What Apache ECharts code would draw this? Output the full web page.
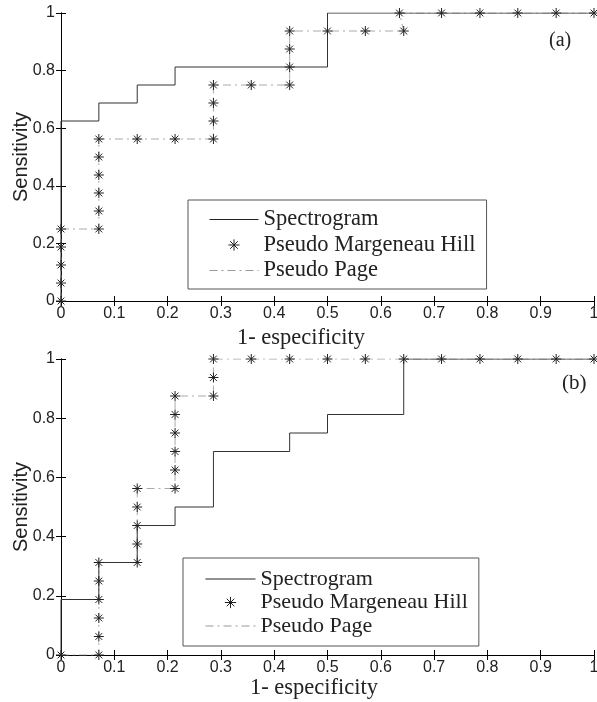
<!DOCTYPE html>
<html>
<head>
<meta charset="utf-8">
<script src="https://cdn.jsdelivr.net/npm/echarts@6/dist/echarts.min.js"></script>
<style>
  html, body { margin: 0; padding: 0; background: #fff; }
  #chart { width: 597px; height: 702px; }
</style>
</head>
<body>
<div id="chart"></div>
<script>
// panel (a)
const specAX = [0, 0, 0.071, 0.071, 0.143, 0.143, 0.214, 0.214, 0.5, 0.5, 1]
const specAY = [0, 0.625, 0.625, 0.6875, 0.6875, 0.75, 0.75, 0.8125, 0.8125, 1, 1]
const pseudoAX = [0, 0, 0, 0, 0, 0.071, 0.071, 0.071, 0.071, 0.071, 0.071, 0.143, 0.214,
  0.286, 0.286, 0.286, 0.286, 0.357, 0.429, 0.429, 0.429, 0.429, 0.5, 0.571, 0.643,
  0.635, 0.714, 0.786, 0.857, 0.929, 1]
const pseudoAY = [0, 0.0625, 0.125, 0.1875, 0.25, 0.25, 0.3125, 0.375, 0.4375, 0.5, 0.5625,
  0.5625, 0.5625, 0.5625, 0.625, 0.6875, 0.75, 0.75, 0.75, 0.8125, 0.875, 0.9375,
  0.9375, 0.9375, 0.9375, 1, 1, 1, 1, 1, 1]

// panel (b)
const specBX = [0, 0, 0.071, 0.071, 0.143, 0.143, 0.214, 0.214, 0.286, 0.286, 0.429, 0.429,
  0.5, 0.5, 0.643, 0.643, 1]
const specBY = [0, 0.1875, 0.1875, 0.3125, 0.3125, 0.4375, 0.4375, 0.5, 0.5, 0.6875, 0.6875,
  0.75, 0.75, 0.8125, 0.8125, 1, 1]
const pseudoBX = [0, 0.071, 0.071, 0.071, 0.071, 0.071, 0.071, 0.143, 0.143, 0.143, 0.143,
  0.143, 0.214, 0.214, 0.214, 0.214, 0.214, 0.214, 0.286, 0.286, 0.286, 0.357, 0.429,
  0.5, 0.571, 0.643, 0.714, 0.786, 0.857, 0.929, 1]
const pseudoBY = [0, 0, 0.0625, 0.125, 0.1875, 0.25, 0.3125, 0.3125, 0.375, 0.4375, 0.5,
  0.5625, 0.5625, 0.625, 0.6875, 0.75, 0.8125, 0.875, 0.875, 0.9375, 1, 1, 1, 1, 1, 1,
  1, 1, 1, 1, 1]

const seriesNames = ['Spectrogram', 'Pseudo Margeneau Hill', 'Pseudo Page']
const panelLabels = ['(a)', '(b)']

const zip = (xs, ys) => xs.map((x, i) => [x, ys[i]])

const ASTERISK = 'path://M0 5L10 5M5 0L5 10M1.6 1.6L8.4 8.4M1.6 8.4L8.4 1.6'
const SANS = 'Liberation Sans'
const SERIF = 'Liberation Serif'

const xAxisFor = (grid, top, nameGap, shift) => ({
  type: 'value',
  gridIndex: grid,
  position: top ? 'top' : 'bottom',
  min: 0,
  max: 1,
  interval: 0.1,
  name: top ? '' : '1- especificity',
  nameLocation: 'middle',
  nameGap: nameGap,
  nameTextStyle: { fontFamily: SERIF, fontSize: 22.5, color: '#222', padding: [0, shift, 0, 0] },
  axisLine: { show: true, lineStyle: { color: '#000', width: 1 } },
  axisTick: { show: true, inside: true, length: 5, lineStyle: { color: '#000' } },
  axisLabel: { show: !top, margin: 5, fontFamily: SANS, fontSize: 16, color: '#222' },
  splitLine: { show: false },
})

const yAxisFor = (grid, right) => ({
  type: 'value',
  gridIndex: grid,
  position: right ? 'right' : 'left',
  min: 0,
  max: 1,
  interval: 0.2,
  name: right ? '' : 'Sensitivity',
  nameLocation: 'middle',
  nameGap: 30,
  nameMoveOverlap: false,
  nameTextStyle: { fontFamily: SANS, fontSize: 20, color: '#222' },
  axisLine: { show: true, lineStyle: { color: '#000', width: 1 } },
  axisTick: { show: true, inside: true, length: 5, lineStyle: { color: '#000' } },
  axisLabel: { show: !right, margin: 6, fontFamily: SANS, fontSize: 16, color: '#222' },
  splitLine: { show: false },
})

const seriesFor = (axis, spec, pseudo) => [
  {
    name: seriesNames[0],
    type: 'line',
    xAxisIndex: axis,
    yAxisIndex: axis,
    symbol: 'none',
    lineStyle: { color: '#333', width: 1 },
    data: spec,
    z: 3,
  },
  {
    name: seriesNames[1],
    type: 'line',
    xAxisIndex: axis,
    yAxisIndex: axis,
    symbol: ASTERISK,
    symbolSize: 10,
    showAllSymbol: true,
    lineStyle: { width: 0, opacity: 0 },
    itemStyle: { color: '#222', borderColor: '#222', borderWidth: 1 },
    data: pseudo,
    z: 4,
  },
  {
    name: seriesNames[2],
    type: 'line',
    xAxisIndex: axis,
    yAxisIndex: axis,
    symbol: 'none',
    lineStyle: { color: '#aaa', width: 1, type: [8, 4, 2, 4] },
    data: pseudo,
    z: 2,
  },
]

const legendData = [
  { name: seriesNames[0], itemStyle: { opacity: 0 }, lineStyle: { color: '#222', width: 1 } },
  {
    name: seriesNames[1],
    lineStyle: { width: 0, opacity: 0 },
    itemStyle: { color: '#222', borderColor: '#222', borderWidth: 1 },
  },
  { name: seriesNames[2], itemStyle: { opacity: 0 }, lineStyle: { color: '#999', width: 1, type: [8, 4, 2, 4] } },
]

const legendFor = (left, top, padding, itemWidth, itemGap, fontSize) => ({
  left: left,
  top: top,
  orient: 'vertical',
  selectedMode: false,
  padding: padding,
  itemWidth: itemWidth,
  itemHeight: 14,
  itemGap: itemGap,
  borderColor: '#555',
  borderWidth: 1,
  backgroundColor: '#fff',
  textStyle: { fontFamily: SERIF, fontSize: fontSize, color: '#222' },
  data: legendData,
})

const chart = echarts.init(document.getElementById('chart'))

const option = {
  animation: false,
  backgroundColor: '#fff',
  grid: [
    { left: 61, top: 13, width: 533, height: 288, containLabel: false, outerBoundsMode: 'none' },
    { left: 61, top: 359, width: 533, height: 296, containLabel: false, outerBoundsMode: 'none' },
  ],
  xAxis: [
    xAxisFor(0, false, 26, 53),
    xAxisFor(0, true),
    xAxisFor(1, false, 22, 27),
    xAxisFor(1, true),
  ],
  yAxis: [
    yAxisFor(0, false),
    yAxisFor(0, true),
    yAxisFor(1, false),
    yAxisFor(1, true),
  ],
  legend: [
    legendFor(188, 200, [8, 11, 7, 21], 49, 2.5, 22.5),
    legendFor(183, 558, [10, 11, 9, 22], 50, 1.5, 22),
  ],
  graphic: [
    {
      type: 'text',
      left: 549,
      top: 31,
      style: { text: panelLabels[0], fontFamily: SERIF, fontSize: 20, fill: '#222' },
    },
    {
      type: 'text',
      left: 562,
      top: 373,
      style: { text: panelLabels[1], fontFamily: SERIF, fontSize: 21, fill: '#222' },
    },
  ],
  series: [
    ...seriesFor(0, zip(specAX, specAY), zip(pseudoAX, pseudoAY)),
    ...seriesFor(2, zip(specBX, specBY), zip(pseudoBX, pseudoBY)),
  ],
}

chart.setOption(option)
</script>
</body>
</html>
